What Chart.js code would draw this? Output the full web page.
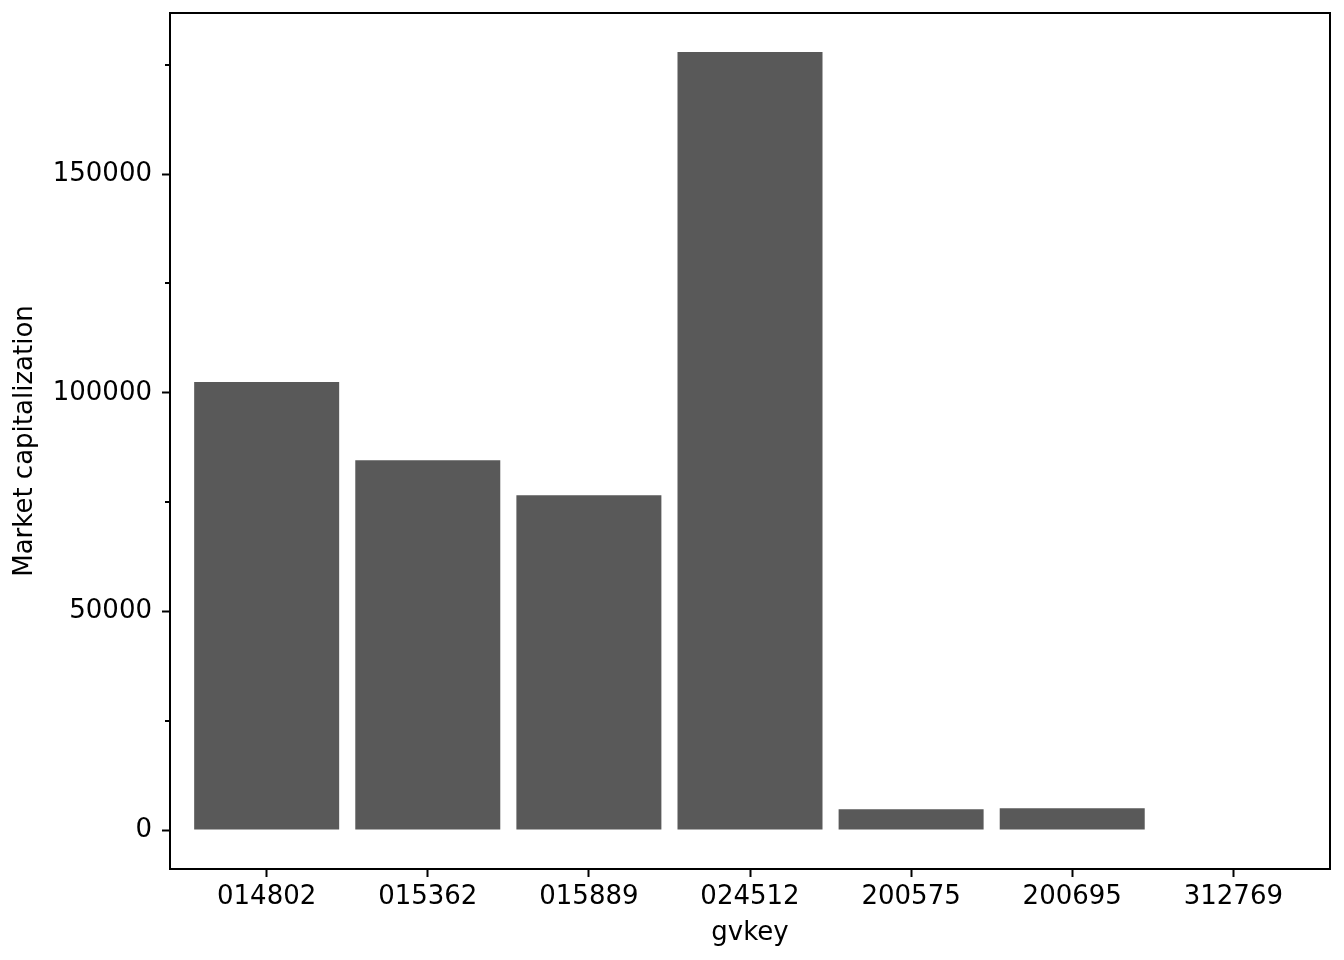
<!DOCTYPE html>
<html>
<head>
<meta charset="utf-8">
<script src="https://cdn.jsdelivr.net/npm/chart.js@4"></script>
<style>
  html, body { margin: 0; padding: 0; background: #fff; }
  #wrap { width: 1344px; height: 960px; }
</style>
</head>
<body>
<div id="wrap"><canvas id="chart"></canvas></div>
<script>
const gvkeys = ['014802', '015362', '015889', '024512', '200575', '200695', '312769'];
const marketCap = [102450, 84600, 76590, 177960, 4740, 4970, null];
const yMajorTicks = [0, 50000, 100000, 150000];
const yMinorTicks = [25000, 75000, 125000, 175000];

const FONT = 'DejaVu Sans';
const FS = 26;

// box round the plot and the short minor ticks on y
const framePlugin = {
  id: 'frame',
  afterDraw(chart) {
    const ctx = chart.ctx, a = chart.chartArea, y = chart.scales.y;
    ctx.save();
    ctx.strokeStyle = '#000';
    ctx.lineWidth = 2;
    ctx.strokeRect(a.left, a.top, a.right - a.left, a.bottom - a.top);
    ctx.beginPath();
    yMinorTicks.forEach(v => {
      const py = Math.round(y.getPixelForValue(v));
      ctx.moveTo(a.left, py);
      ctx.lineTo(a.left - 5, py);
    });
    ctx.stroke();
    ctx.restore();
  }
};

new Chart(document.getElementById('chart'), {
  type: 'bar',
  data: {
    datasets: [{
      data: gvkeys.map((k, i) => ({ x: i, y: marketCap[i] })),
      backgroundColor: '#595959',
      borderWidth: 0,
      barPercentage: 0.9,
      categoryPercentage: 1.0
    }]
  },
  options: {
    responsive: true,
    maintainAspectRatio: false,
    animation: false,
    devicePixelRatio: 1,
    layout: { padding: { top: 13, right: 14, left: 0, bottom: 0 } },
    plugins: { legend: { display: false }, tooltip: { enabled: false } },
    scales: {
      x: {
        type: 'linear',
        min: -0.6,
        max: 6.6,
        offset: false,
        afterBuildTicks: s => { s.ticks = gvkeys.map((k, i) => ({ value: i })); },
        afterFit: s => { s.height = 91; s.paddingLeft = 0; s.paddingRight = 0; },
        grid: { offset: false, drawOnChartArea: false, drawTicks: true, tickLength: 8, tickWidth: 2, tickColor: '#000' },
        border: { display: true, color: '#000', width: 2 },
        ticks: {
          color: '#000',
          font: { family: FONT, size: FS },
          padding: 5,
          maxRotation: 0,
          autoSkip: false,
          callback: v => gvkeys[v]
        },
        title: { display: true, text: 'gvkey', color: '#000', font: { family: FONT, size: FS }, padding: { top: 0, bottom: 11 } }
      },
      y: {
        min: -8900,
        max: 186860,
        afterBuildTicks: s => { s.ticks = yMajorTicks.map(v => ({ value: v })); },
        afterFit: s => { s.width = 170; s.paddingTop = 0; s.paddingBottom = 0; },
        grid: { drawOnChartArea: false, drawTicks: true, tickLength: 8, tickWidth: 2, tickColor: '#000' },
        border: { display: true, color: '#000', width: 2 },
        ticks: {
          color: '#000',
          font: { family: FONT, size: FS },
          padding: 10,
          callback: v => String(v)
        },
        title: { display: true, text: 'Market capitalization', color: '#000', font: { family: FONT, size: FS }, padding: { top: 10, bottom: 0 } }
      }
    }
  },
  plugins: [framePlugin]
});
</script>
</body>
</html>
